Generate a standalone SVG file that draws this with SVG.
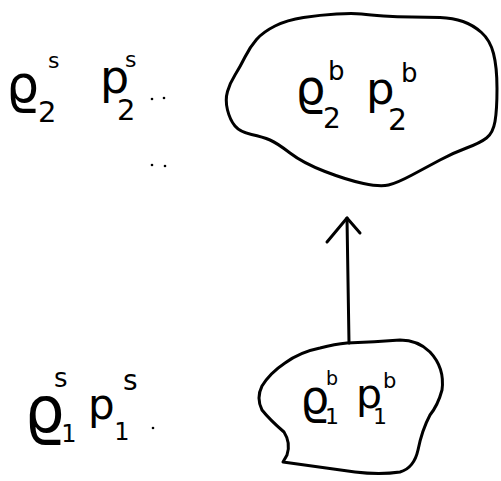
<svg xmlns="http://www.w3.org/2000/svg" width="501" height="481" viewBox="0 0 501 481">
<style>
.ink{fill:none;stroke:#000;stroke-width:3;stroke-linecap:round;stroke-linejoin:round}
text{font-family:"DejaVu Sans","Liberation Sans",sans-serif;fill:#000}
.dot{fill:#000}
</style>
<rect width="501" height="481" fill="#fff"/>
<g id="connectors">
<path class="ink" d="M349,343 L347,218"/>
<path class="ink" d="M327,242 L347,218 L360,233"/>
</g>
<g id="node-s2">
<text><tspan x="6" y="102" font-size="52">ϱ</tspan><tspan x="38" y="122" font-size="29">2</tspan><tspan x="48" y="68" font-size="22">s</tspan><tspan x="100" y="93" font-size="46">p</tspan><tspan x="117" y="120" font-size="29">2</tspan><tspan x="125" y="67" font-size="22">s</tspan></text>
<circle class="dot" cx="152" cy="99" r="1.3"/>
<circle class="dot" cx="164" cy="98" r="1.3"/>
<circle class="dot" cx="152" cy="165" r="1.3"/>
<circle class="dot" cx="165" cy="166" r="1.3"/>
</g>
<g id="node-b2">
<path class="ink" d="M361.5,14 Q370,15 383.5,16 Q397,17 412,17 Q427,17 440,17.5 Q453,18 463,21.5 Q473,25 481.5,32.5 Q490,40 493.5,53.5 Q497,67 497,88.5 Q497,110 495,121.5 Q493,133 486.5,138 Q480,143 466.5,148 Q453,153 440,160 Q427,167 412,175 Q397,183 388.5,185 Q380,187 363.5,183.5 Q347,180 325,171.5 Q303,163 290,153 Q277,143 270,140 Q263,137 251.5,134.5 Q240,132 235,126 Q230,120 227.5,110 Q225,100 227.5,91.5 Q230,83 235,75 Q240,67 245,57 Q250,47 256.5,39.5 Q263,32 275,26 Q287,20 303.5,17.5 Q320,15 336.5,14 Q353,13 361.5,14 Z"/>
<text><tspan x="295" y="104" font-size="48">ϱ</tspan><tspan x="323" y="128" font-size="28">2</tspan><tspan x="328" y="80" font-size="26">b</tspan><tspan x="366" y="104" font-size="45">p</tspan><tspan x="388" y="130" font-size="30">2</tspan><tspan x="401" y="82" font-size="26">b</tspan></text>
</g>
<g id="node-s1">
<text><tspan x="24" y="432" font-size="64">ϱ</tspan><tspan x="69" y="442" font-size="24" text-anchor="middle">1</tspan><tspan x="54" y="387" font-size="26">s</tspan><tspan x="88" y="419" font-size="42">p</tspan><tspan x="122" y="440" font-size="24" text-anchor="middle">1</tspan><tspan x="123" y="390" font-size="28">s</tspan></text>
<circle class="dot" cx="153" cy="428" r="1.3"/>
</g>
<g id="node-b1">
<path class="ink" d="M283,462 L287,455 Q291,443 284,432 Q270,420 262,410 Q256,398 262,386 Q270,373 285,363 Q300,352 320,348 Q335,344 347,343 Q375,342 400,340 Q418,340 430,352 Q445,368 442,390 Q438,405 430,415 Q422,430 418,450 Q414,468 400,472 Q380,475 355,472 Q320,467 283,462 Z"/>
<text><tspan x="300" y="413" font-size="46">ϱ</tspan><tspan x="332" y="424" font-size="22" text-anchor="middle">1</tspan><tspan x="326" y="385" font-size="19">b</tspan><tspan x="356" y="408" font-size="41">p</tspan><tspan x="380" y="424" font-size="22" text-anchor="middle">1</tspan><tspan x="383" y="388" font-size="21">b</tspan></text>
</g>
</svg>
